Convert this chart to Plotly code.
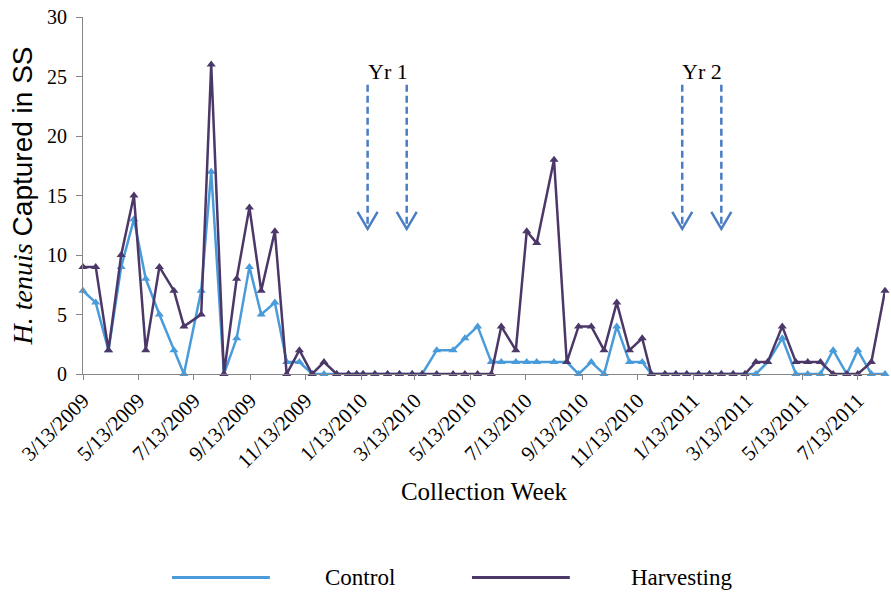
import plotly.graph_objects as go

# Collection weeks and sticky-trap captures of H. tenuis
collection_dates = [
    "2009-03-13", "2009-03-27", "2009-04-10", "2009-04-24", "2009-05-08", "2009-05-21",
    "2009-06-05", "2009-06-21", "2009-07-02", "2009-07-21", "2009-08-01", "2009-08-15",
    "2009-08-29", "2009-09-12", "2009-09-25", "2009-10-10", "2009-10-23", "2009-11-06",
    "2009-11-20", "2009-12-03", "2009-12-17", "2009-12-30", "2010-01-08", "2010-01-15",
    "2010-01-28", "2010-02-11", "2010-02-24", "2010-03-10", "2010-03-21", "2010-04-06",
    "2010-04-24", "2010-05-07", "2010-05-21", "2010-06-05", "2010-06-16", "2010-07-02",
    "2010-07-14", "2010-07-25", "2010-08-13", "2010-08-27", "2010-09-09", "2010-09-23",
    "2010-10-07", "2010-10-21", "2010-11-04", "2010-11-18", "2010-11-28", "2010-12-13",
    "2010-12-25", "2011-01-06", "2011-01-19", "2011-01-31", "2011-02-13", "2011-02-26",
    "2011-03-11", "2011-03-23", "2011-04-05", "2011-04-21", "2011-05-06", "2011-05-19",
    "2011-06-02", "2011-06-16", "2011-07-01", "2011-07-13", "2011-07-28", "2011-08-12",
]

control = [
    7, 6, 2, 9, 13, 8, 5, 2, 0, 7, 17, 0,
    3, 9, 5, 6, 1, 1, 0, 0, 0, 0, 0, 0,
    0, 0, 0, 0, 0, 2, 2, 3, 4, 1, 1, 1,
    1, 1, 1, 1, 0, 1, 0, 4, 1, 1, 0, 0,
    0, 0, 0, 0, 0, 0, 0, 0, 1, 3, 0, 0,
    0, 2, 0, 2, 0, 0,
]

harvesting = [
    9, 9, 2, 10, 15, 2, 9, 7, 4, 5, 26, 0,
    8, 14, 7, 12, 0, 2, 0, 1, 0, 0, 0, 0,
    0, 0, 0, 0, 0, 0, 0, 0, 0, 0, 4, 2,
    12, 11, 18, 1, 4, 4, 2, 6, 2, 3, 0, 0,
    0, 0, 0, 0, 0, 0, 0, 1, 1, 4, 1, 1,
    1, 0, 0, 0, 1, 7,
]

tick_dates = [
    "2009-03-13", "2009-05-13", "2009-07-13", "2009-09-13", "2009-11-13",
    "2010-01-13", "2010-03-13", "2010-05-13", "2010-07-13", "2010-09-13",
    "2010-11-13", "2011-01-13", "2011-03-13", "2011-05-13", "2011-07-13",
]
tick_labels = [
    "3/13/2009", "5/13/2009", "7/13/2009", "9/13/2009", "11/13/2009",
    "1/13/2010", "3/13/2010", "5/13/2010", "7/13/2010", "9/13/2010",
    "11/13/2010", "1/13/2011", "3/13/2011", "5/13/2011", "7/13/2011",
]

# Harvest events marked with dashed arrows, grouped by year
harvest_years = ["Yr 1", "Yr 2"]
harvest_label_dates = ["2010-02-11", "2011-01-23"]
harvest_arrow_dates = [["2010-01-20", "2010-03-04"], ["2011-01-01", "2011-02-13"]]

CONTROL_COLOR = "#4A9BDA"
HARVEST_COLOR = "#4B3868"
ARROW_COLOR = "#4A7DC4"
AXIS_COLOR = "#868686"
SERIF = "Liberation Serif, Times New Roman, serif"
SANS = "Liberation Sans, Arial, sans-serif"

fig = go.Figure()

fig.add_trace(go.Scatter(
    x=collection_dates, y=control, mode="lines+markers", name="Control",
    line=dict(color=CONTROL_COLOR, width=2.5),
    marker=dict(symbol="triangle-up", size=8, color=CONTROL_COLOR),
    cliponaxis=False, showlegend=False,
))
fig.add_trace(go.Scatter(
    x=collection_dates, y=harvesting, mode="lines+markers", name="Harvesting",
    line=dict(color=HARVEST_COLOR, width=2.5),
    marker=dict(symbol="triangle-up", size=8, color=HARVEST_COLOR),
    cliponaxis=False, showlegend=False,
))

shapes = []
annotations = []
arrow_top, arrow_tip = 24.3, 12.2
for label, label_date, arrow_dates in zip(harvest_years, harvest_label_dates, harvest_arrow_dates):
    annotations.append(dict(
        x=label_date, y=25.4, xref="x", yref="y", text=label, showarrow=False,
        font=dict(family=SERIF, size=22, color="#000000"), yanchor="middle",
    ))
    for d in arrow_dates:
        # dashed shaft
        shapes.append(dict(
            type="line", xref="x", yref="y", x0=d, x1=d, y0=arrow_top, y1=arrow_tip,
            line=dict(color=ARROW_COLOR, width=2.5, dash="7px,4px"),
        ))
        # open chevron head
        shapes.append(dict(
            type="path", xref="x", yref="y",
            xsizemode="pixel", xanchor=d, ysizemode="pixel", yanchor=arrow_tip,
            path="M -10,17 L 0,0 L 10,17",
            line=dict(color=ARROW_COLOR, width=2.5),
        ))

# legend drawn below the axis with long line samples
legend_items = [("Control", CONTROL_COLOR, 0.111, 0.233, 0.345),
                ("Harvesting", HARVEST_COLOR, 0.485, 0.607, 0.746)]
legend_y = -0.570
for name, color, lx0, lx1, tx in legend_items:
    shapes.append(dict(
        type="line", xref="paper", yref="paper", x0=lx0, x1=lx1, y0=legend_y, y1=legend_y,
        line=dict(color=color, width=3),
    ))
    annotations.append(dict(
        x=tx, y=legend_y, xref="paper", yref="paper", text=name, showarrow=False,
        font=dict(family=SERIF, size=23, color="#000000"), xanchor="center", yanchor="middle",
    ))

fig.update_layout(
    width=891, height=593,
    margin=dict(l=83, r=6, t=17, b=219),
    paper_bgcolor="white", plot_bgcolor="white",
    shapes=shapes, annotations=annotations,
    font=dict(family=SERIF, color="#000000"),
    xaxis=dict(
        type="date", range=["2009-03-13", "2011-08-12"],
        tickvals=tick_dates, ticktext=tick_labels, tickangle=-45,
        tickfont=dict(family=SERIF, size=21, color="#000000"),
        ticks="outside", ticklen=5, tickcolor=AXIS_COLOR,
        showline=True, linecolor=AXIS_COLOR, linewidth=1,
        showgrid=False, zeroline=False,
        title=dict(text="Collection Week", font=dict(family=SERIF, size=25, color="#000000"),
                   standoff=10),
        automargin=False,
    ),
    yaxis=dict(
        range=[0, 30], tickvals=[0, 5, 10, 15, 20, 25, 30],
        tickfont=dict(family=SERIF, size=20, color="#000000"),
        ticks="outside", ticklen=6, tickcolor=AXIS_COLOR, ticklabelstandoff=5,
        showline=True, linecolor=AXIS_COLOR, linewidth=1,
        showgrid=False, zeroline=False,
        title=dict(
            text="<i>H. tenuis</i> <span style=\"font-family:'Liberation Sans', Arial, sans-serif\">Captured in SS</span>",
            font=dict(family=SERIF, size=28, color="#000000"), standoff=6,
        ),
        automargin=False,
    ),
)

fig.write_html("out.html")
